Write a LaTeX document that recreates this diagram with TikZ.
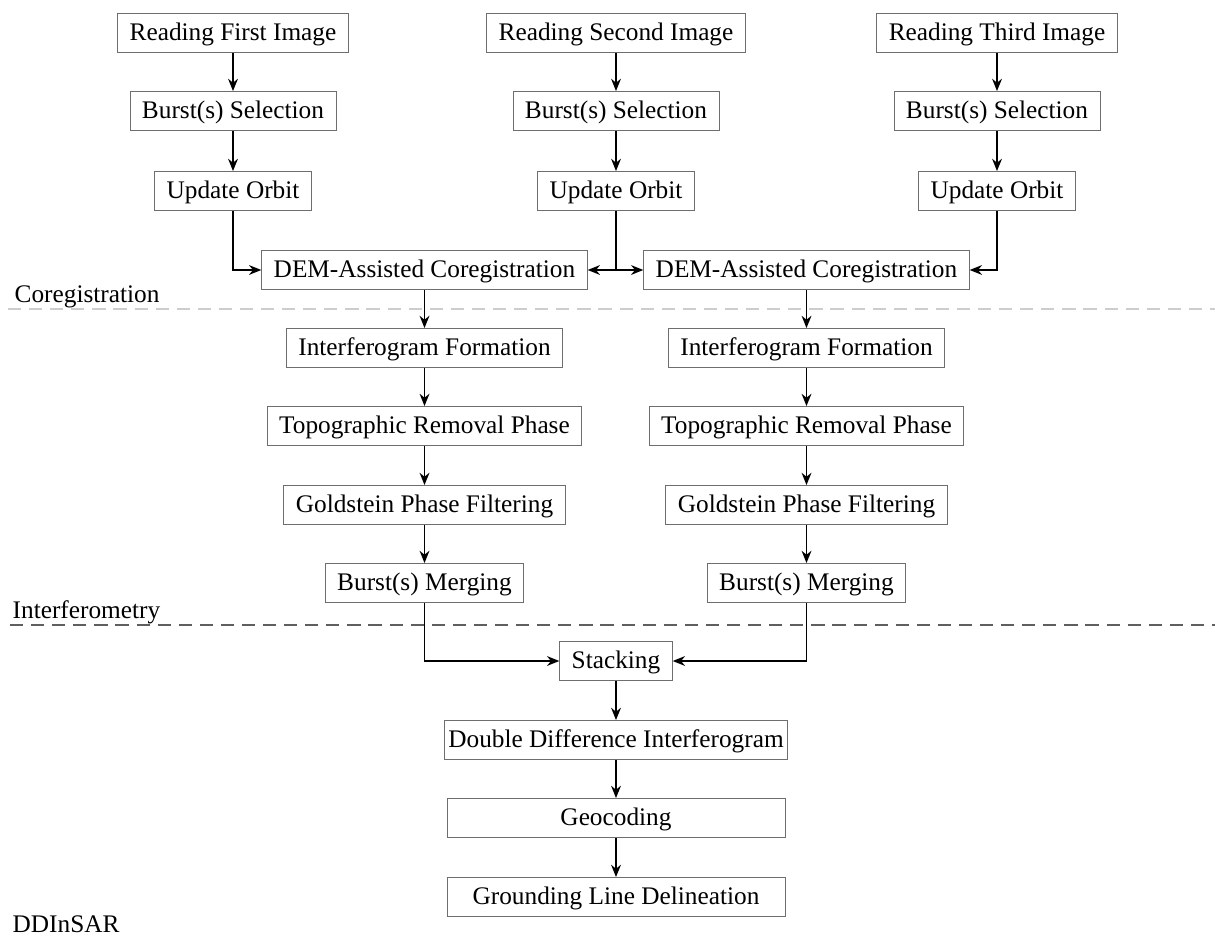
\documentclass[tikz,border=0pt]{standalone}
\usepackage{fontspec}
\setmainfont{Liberation Serif}
\usepackage{tikz}
\usetikzlibrary{arrows,arrows.meta,calc}
\definecolor{myboxgray}{RGB}{110,110,110}
\definecolor{mylightgray}{RGB}{205,205,205}
\definecolor{mydarkgray}{RGB}{95,95,95}
\tikzstyle{process}=[draw=myboxgray,rectangle,line width=0.5pt,minimum height=0.78cm,inner xsep=0.24cm,inner ysep=0pt,text height=1.04em,text depth=0.22em,font=\fontsize{14.4}{17}\selectfont]
\tikzstyle{wideprocess}=[process,minimum width=6.76cm,inner xsep=0.08cm]
\tikzstyle{stagelabel}=[anchor=base west,inner sep=0pt,font=\fontsize{14.4}{17}\selectfont]
\tikzstyle{separator}=[dash pattern=on 7.5pt off 4.5pt,line width=0.6pt]

\begin{document}
\begin{tikzpicture}[line width=0.8pt,>={Stealth[length=7pt,width=5.6pt]}]
\useasboundingbox (0,0) rectangle (24.3,-18.7);
% three input branches
\draw (4.66, -0.66) node [process] (read1) {Reading First Image};
\draw (12.32, -0.66) node [process] (read2) {Reading Second Image};
\draw (19.94, -0.66) node [process] (read3) {Reading Third Image};
\draw (4.66, -2.22) node [process] (burst1) {Burst(s) Selection};
\draw (12.32, -2.22) node [process] (burst2) {Burst(s) Selection};
\draw (19.94, -2.22) node [process] (burst3) {Burst(s) Selection};
\draw (4.66, -3.82) node [process] (orbit1) {Update Orbit};
\draw (12.32, -3.82) node [process] (orbit2) {Update Orbit};
\draw (19.94, -3.82) node [process] (orbit3) {Update Orbit};
% coregistration of the pairs
\draw (8.49, -5.40) node [process] (coreg1) {DEM-Assisted Coregistration};
\draw (16.13, -5.40) node [process] (coreg2) {DEM-Assisted Coregistration};
% interferometry chains
\draw (8.49, -6.96) node [process] (ifg1) {Interferogram Formation};
\draw (16.13, -6.96) node [process] (ifg2) {Interferogram Formation};
\draw (8.49, -8.52) node [process] (topo1) {Topographic Removal Phase};
\draw (16.13, -8.52) node [process] (topo2) {Topographic Removal Phase};
\draw (8.49, -10.10) node [process] (gold1) {Goldstein Phase Filtering};
\draw (16.13, -10.10) node [process] (gold2) {Goldstein Phase Filtering};
\draw (8.49, -11.66) node [process] (merge1) {Burst(s) Merging};
\draw (16.13, -11.66) node [process] (merge2) {Burst(s) Merging};
% ddinsar part
\draw (12.32, -13.22) node [process] (stack) {Stacking};
\draw (12.32, -14.80) node [wideprocess] (ddiff) {Double Difference Interferogram};
\draw (12.32, -16.36) node [wideprocess] (geo) {Geocoding};
\draw (12.32, -17.94) node [wideprocess] (gline) {Grounding Line Delineation};
% stage labels and separators
\node [stagelabel] (coreglabel) at (0.28, -6.04) {Coregistration};
\node [stagelabel] (ifglabel) at (0.24, -12.36) {Interferometry};
\node [stagelabel] (ddlabel) at (0.24, -18.64) {DDInSAR};
\draw [separator, mylightgray] (0.16, -6.18) -- (24.3, -6.18);
\draw [separator, mydarkgray] (0.2, -12.50) -- (24.3, -12.50);
% connections
\draw[->] (read1) -- (burst1);
\draw[->] (read2) -- (burst2);
\draw[->] (read3) -- (burst3);
\draw[->] (burst1) -- (orbit1);
\draw[->] (burst2) -- (orbit2);
\draw[->] (burst3) -- (orbit3);
\draw[->] (orbit1) |- (coreg1);
\draw[->] (orbit2) |- (coreg1);
\draw[->] (orbit2) |- (coreg2);
\draw[->] (orbit3) |- (coreg2);
\draw[->] (coreg1) -- (ifg1);
\draw[->] (coreg2) -- (ifg2);
\draw[->] (ifg1) -- (topo1);
\draw[->] (ifg2) -- (topo2);
\draw[->] (topo1) -- (gold1);
\draw[->] (topo2) -- (gold2);
\draw[->] (gold1) -- (merge1);
\draw[->] (gold2) -- (merge2);
\draw[->] (merge1) |- (stack);
\draw[->] (merge2) |- (stack);
\draw[->] (stack) -- (ddiff);
\draw[->] (ddiff) -- (geo);
\draw[->] (geo) -- (gline);
\end{tikzpicture}
\end{document}
